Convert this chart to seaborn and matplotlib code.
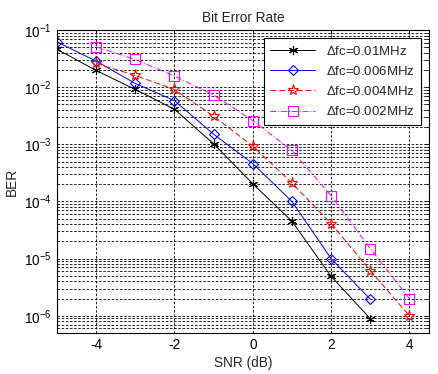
import matplotlib
matplotlib.use("Agg")
import matplotlib.pyplot as plt
import matplotlib.ticker as mticker
import seaborn as sns
import numpy as np
import pandas as pd

# Du lieu doc tu hinh goc
snr_a = [-5, -4, -3, -2, -1, 0, 1, 2, 3]
snr_b = [-4, -3, -2, -1, 0, 1, 2, 3, 4]

ber_001 = [0.046, 0.0196, 0.0091, 0.0041, 0.00102, 2.04e-4, 4.5e-5, 4.9e-6, 8.9e-7]
ber_0006 = [0.062, 0.0285, 0.0116, 0.0058, 0.0015, 4.6e-4, 1.0e-4, 1.0e-5, 1.95e-6]
ber_0004 = [0.026, 0.016, 0.0091, 0.0031, 9.3e-4, 2.1e-4, 4.1e-5, 6.2e-6, 1.0e-6]
ber_0002 = [0.051, 0.0305, 0.0156, 0.0073, 0.0026, 7.8e-4, 1.26e-4, 1.5e-5, 2.0e-6]

labels = [r"$\Delta$fc=0.01MHz", r"$\Delta$fc=0.006MHz",
          r"$\Delta$fc=0.004MHz", r"$\Delta$fc=0.002MHz"]

sns.set_theme(style="white")
plt.rcParams['font.family'] = ['Liberation Sans', 'DejaVu Sans']
plt.rcParams['mathtext.fontset'] = 'custom'
plt.rcParams['mathtext.rm'] = 'Liberation Sans'
plt.rcParams['mathtext.it'] = 'Liberation Sans'
plt.rcParams['axes.unicode_minus'] = False

fig = plt.figure(figsize=(4.39, 3.74), dpi=100)
ax = fig.add_axes([57 / 439, 1 - 333 / 374, 372 / 439, 303 / 374])

series = [
    (snr_a, ber_001, 'black', (6, 2, 0), '-', labels[0], 6.5),
    (snr_a, ber_0006, 'blue', 'D', '-', labels[1], 5.5),
    (snr_b, ber_0004, 'red', '*', (0, (6, 3)), labels[2], 8),
    (snr_b, ber_0002, 'magenta', 's', (0, (6, 2, 1, 2)), labels[3], 7.5),
]

for x, y, c, m, ls, lab, ms in series:
    df = pd.DataFrame({'SNR': x, 'BER': y})
    sns.lineplot(data=df, x='SNR', y='BER', ax=ax, color=c, marker=m,
                 linestyle=ls, linewidth=0.7, markersize=ms,
                 markerfacecolor='none', markeredgecolor=c,
                 markeredgewidth=0.8, label=lab)

ax.set_yscale('log')
ax.set_xlim(-5, 4.5)
ax.set_ylim(5e-7, 1e-1)
ax.set_xticks([-4, -2, 0, 2, 4])
ax.yaxis.set_major_locator(mticker.LogLocator(base=10, numticks=10))
ax.yaxis.set_minor_locator(mticker.LogLocator(base=10, subs=np.arange(2, 10), numticks=20))
ax.yaxis.set_minor_formatter(mticker.NullFormatter())

ax.grid(True, which='major', axis='both', color='black', linestyle=(0, (3, 2)), linewidth=0.6)
ax.grid(True, which='minor', axis='y', color='black', linestyle=(0, (3, 2)), linewidth=0.6)

ax.tick_params(which='both', direction='in', top=True, right=True, colors='black',
               labelsize=9.8, length=3, width=0.6)
ax.tick_params(which='minor', length=2)
for s in ax.spines.values():
    s.set_color('black')
    s.set_linewidth(0.8)

ax.set_title('Bit Error Rate', fontsize=9.8, pad=6)
ax.set_xlabel('SNR (dB)', fontsize=9.8, labelpad=3)
ax.set_ylabel('BER', fontsize=9.8, labelpad=4)

leg = ax.legend(loc='upper right', fontsize=9.5, frameon=True, fancybox=False,
                edgecolor='black', framealpha=1, handlelength=3.4,
                borderaxespad=0.6, labelspacing=0.55, borderpad=0.5)
leg.get_frame().set_linewidth(0.8)

fig.savefig('out.png', dpi=100, facecolor='white')
